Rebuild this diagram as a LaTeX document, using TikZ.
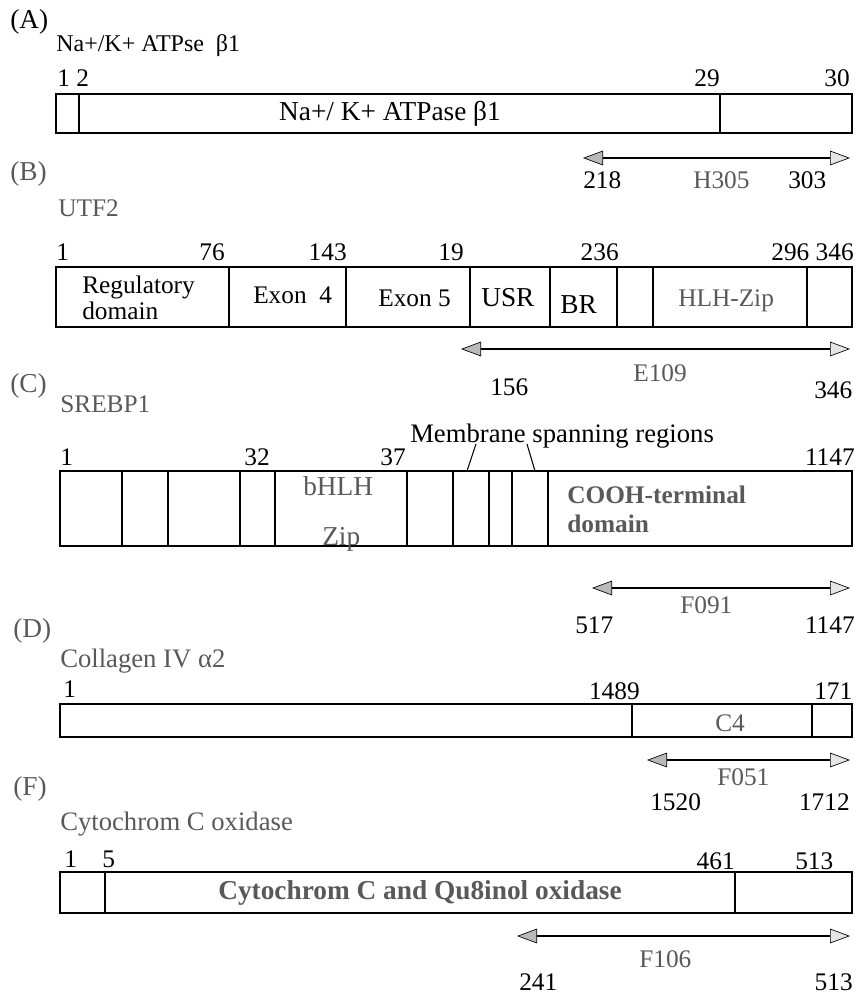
\documentclass[tikz,border=0pt]{standalone}
\usepackage{fontspec}
\setmainfont{Liberation Serif}
\usetikzlibrary{arrows.meta}
\tikzset{
  box/.style={line width=1.1pt},
  divider/.style={line width=0.8pt},
  txt/.style={inner sep=0pt, font=\fontsize{19}{22}\selectfont},
  num/.style={txt, anchor=base west},
  numr/.style={txt, anchor=base east},
  faint/.style={text=black!65},
  spanarrow/.style={line width=1.6pt,
    {Triangle[length=15pt,width=11pt,fill=gray!55,line width=0.5pt]}-{Triangle[length=15pt,width=11pt,fill=gray!20,line width=0.5pt]}},
}
\newcommand{\bigfs}{\fontsize{20.5}{23}\selectfont}
\begin{document}
\begin{tikzpicture}[x=0.75pt,y=-0.75pt]
    \useasboundingbox (0,0) rectangle (865,996);

    % (A) Na+/K+ ATPase beta1
    \node[num] (labA) at (10,28) {\bigfs (A)};
    \node[num] (ttlA) at (56,51) {\fontsize{18}{21}\selectfont Na+/K+ ATPse \ β1};
    \node[num] (a1) at (57,86) {1 2};
    \node[numr] (a29) at (720,86) {29};
    \node[numr] (a30) at (850,86) {30};
    \draw[box] (56,94) rectangle (852,133);
    \foreach \x in {79,720} \draw[divider] (\x,94) -- (\x,133);
    \node[txt] (domA) at (390,114) {\bigfs Na+/ K+ ATPase β1};
    \coordinate (h305l) at (583,158);
    \coordinate (h305r) at (850,158);
    \draw[spanarrow] (h305l) -- (h305r);
    \node[num] (a218) at (583,188) {218};
    \node[num,faint] (h305) at (693,188) {H305};
    \node[num] (a303) at (788,188) {303};

    % (B) UTF2
    \node[num,faint] (labB) at (10,180) {\bigfs (B)};
    \node[num,faint] (ttlB) at (58,216) {UTF2};
    \node[num] (b1) at (56,260) {1};
    \node[numr] (b76) at (225,260) {76};
    \node[numr] (b143) at (347,260) {143};
    \node[numr] (b19) at (464,260) {19};
    \node[numr] (b236) at (619,260) {236};
    \node[numr] (b296) at (854,260) {296 346};
    \draw[box] (56,267) rectangle (852,327);
    \foreach \x in {229,346,470,550,617,653,807} \draw[divider] (\x,267) -- (\x,327);
    \node[num] (regB) at (82,293) {Regulatory};
    \node[num] (regB2) at (82,319) {domain};
    \node[num] (ex4) at (253,303) {Exon \ 4};
    \node[num] (ex5) at (378,306) {Exon 5};
    \node[num] (usr) at (481,306) {\bigfs USR};
    \node[num] (br) at (560,313) {\bigfs BR};
    \node[num,faint] (hlh) at (678,306) {HLH-Zip};
    \coordinate (e109l) at (461,349);
    \coordinate (e109r) at (850,349);
    \draw[spanarrow] (e109l) -- (e109r);
    \node[num,faint] (e109) at (633,381) {E109};
    \node[num] (b156) at (490,395) {156};
    \node[num] (b346) at (814,398) {346};

    % (C) SREBP1
    \node[num,faint] (labC) at (10,392) {\bigfs (C)};
    \node[num,faint] (ttlC) at (60,412) {SREBP1};
    \node[num] (memb) at (410,442) {\fontsize{20}{23}\selectfont Membrane spanning regions};
    \coordinate (mem1) at (476,444);
    \coordinate (mem2) at (527,444);
    \draw[divider] (mem1) -- (467,471);
    \draw[divider] (mem2) -- (535,471);
    \node[num] (c1) at (60,465) {1};
    \node[numr] (c32) at (270,465) {32};
    \node[numr] (c37) at (406,465) {37};
    \node[numr] (c1147) at (855,465) {1147};
    \draw[box] (60,471) rectangle (852,546);
    \foreach \x in {122,168,240,275,407,453,489,512,548} \draw[divider] (\x,471) -- (\x,546);
    \node[num,faint] (bhlh) at (303,495) {\bigfs bHLH};
    \node[num,faint] (zip) at (322,545) {\bigfs Zip};
    \node[num,faint] (cooh) at (567,503) {\bfseries COOH-terminal};
    \node[num,faint] (cooh2) at (567,532) {\bfseries domain};
    \coordinate (f091l) at (592,588);
    \coordinate (f091r) at (850,588);
    \draw[spanarrow] (f091l) -- (f091r);
    \node[num,faint] (f091) at (680,613) {F091};
    \node[num] (c517) at (575,633) {517};
    \node[numr] (c1147b) at (855,633) {1147};

    % (D) Collagen IV alpha2
    \node[num,faint] (labD) at (13,637) {\bigfs (D)};
    \node[num,faint] (ttlD) at (60,667) {\fontsize{20}{23}\selectfont Collagen IV α2};
    \node[num] (d1) at (63,697) {1};
    \node[numr] (d1489) at (640,699) {1489};
    \node[num] (d171) at (814,699) {171};
    \draw[box] (60,704) rectangle (852,737);
    \foreach \x in {632,812} \draw[divider] (\x,704) -- (\x,737);
    \node[num,faint] (c4) at (715,731) {C4};
    \coordinate (f051l) at (647,760);
    \coordinate (f051r) at (850,760);
    \draw[spanarrow] (f051l) -- (f051r);
    \node[num,faint] (f051) at (717,785) {F051};
    \node[num] (d1520) at (650,810) {1520};
    \node[numr] (d1712) at (850,810) {1712};

    % (F) Cytochrome C oxidase
    \node[num,faint] (labF) at (13,795) {\bigfs (F)};
    \node[num,faint] (ttlF) at (60,830) {\fontsize{20}{23}\selectfont Cytochrom C oxidase};
    \node[num] (f1) at (64,867) {1};
    \node[num] (f5) at (102,867) {5};
    \node[numr] (f461) at (735,869) {461};
    \node[num] (f513) at (795,869) {513};
    \draw[box] (60,872) rectangle (852,913);
    \foreach \x in {105,735} \draw[divider] (\x,872) -- (\x,913);
    \node[txt,faint] (domF) at (420,893) {\bigfs\bfseries Cytochrom C and Qu8inol oxidase};
    \coordinate (f106l) at (517,936);
    \coordinate (f106r) at (850,936);
    \draw[spanarrow] (f106l) -- (f106r);
    \node[num,faint] (f106) at (639,967) {F106};
    \node[num] (f241) at (519,990) {241};
    \node[numr] (f513b) at (853,990) {513};
\end{tikzpicture}
\end{document}
